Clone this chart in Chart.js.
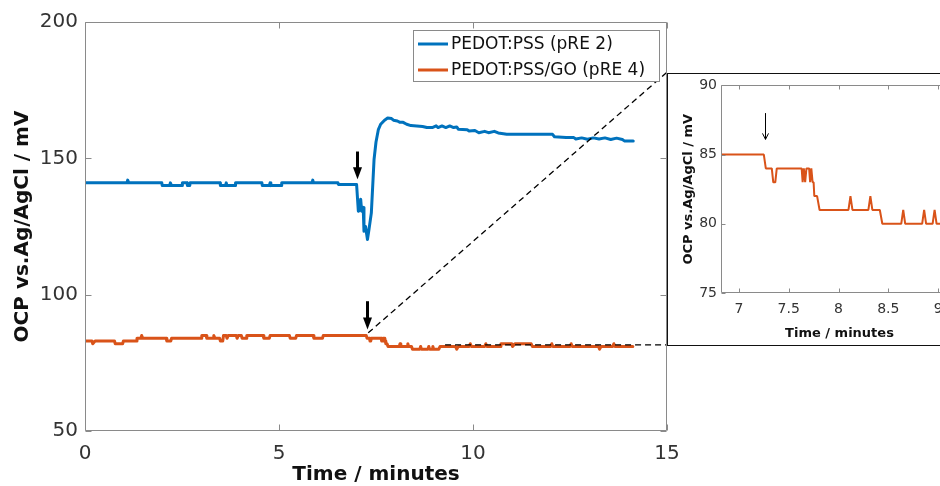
<!DOCTYPE html>
<html><head><meta charset="utf-8">
<script src="https://cdn.jsdelivr.net/npm/chart.js@4/dist/chart.umd.min.js"></script>
<style>
html,body{margin:0;padding:0;background:#fff;overflow:hidden;width:940px;height:486px;}
#wrap{position:relative;width:940px;height:486px;overflow:hidden;}
#main{position:absolute;left:0;top:0;}
#inset{position:absolute;left:667px;top:73px;}
</style></head><body>
<div id="wrap">
<canvas id="main" width="940" height="486"></canvas>
<canvas id="inset" width="300" height="273"></canvas>
</div>
<script>
// ---------- data ----------
const seriesNames = ['PEDOT:PSS (pRE 2)', 'PEDOT:PSS/GO (pRE 4)'];
const seriesColors = ['#0072BD', '#D95319'];
const xTitle = 'Time / minutes';
const yTitle = 'OCP vs.Ag/AgCl / mV';

const xTicks = [0, 5, 10, 15];
const yTicks = [50, 100, 150, 200];
const insetXTicks = [7, 7.5, 8, 8.5, 9];
const insetYTicks = [75, 80, 85, 90];
const insetRange = [6.82, 9.2];

const blueTime = [0,1.08,1.10,1.13,1.98,1.99,2.18,2.20,2.23,2.50,2.51,2.63,2.64,2.70,2.71,3.48,3.49,3.62,3.64,3.66,3.87,3.88,4.56,4.57,4.75,4.77,4.79,5.06,5.07,5.85,5.87,5.89,6.52,6.53,7.00,7.045,7.08,7.105,7.13,7.17,7.19,7.23,7.28,7.32,7.38,7.45,7.50,7.56,7.62,7.72,7.80,7.90,7.95,8.05,8.12,8.20,8.29,8.40,8.55,8.70,8.81,8.95,9.05,9.10,9.20,9.30,9.40,9.50,9.58,9.62,9.85,9.90,10.05,10.15,10.30,10.40,10.55,10.65,10.87,12.05,12.10,12.40,12.60,12.65,12.80,12.95,13.10,13.25,13.40,13.55,13.70,13.85,13.90,14.13];
const blueMv = [141,141,142,141,141,140,140,141,140,140,141,141,140,140,141,141,140,140,141,140,140,141,141,140,140,141,140,140,141,141,142,141,141,140.4,140.4,130.6,131,135,130.6,132,123.3,125,120.2,124,130,149.6,156,160.5,162.5,164,164.8,164.6,164,163.7,163.2,163.2,162.5,162,161.9,161.7,161.3,161.3,161.9,161.3,161.9,161.3,161.9,161.3,161.5,160.7,160.5,160,160.2,159.4,159.9,159.4,159.9,159.3,158.8,158.8,157.9,157.6,157.6,157.1,157.5,157.0,157.5,157.1,157.5,156.9,157.4,156.9,156.4,156.4];

const orangeTime = [0,0.18,0.2,0.26,0.76,0.78,0.97,0.99,1.32,1.34,1.44,1.46,1.49,2.09,2.11,2.21,2.23,2.99,3.01,3.12,3.14,3.30,3.32,3.35,3.47,3.49,3.55,3.57,3.64,3.66,3.69,3.9,3.92,3.95,4.03,4.05,4.15,4.17,4.59,4.61,4.75,4.77,5.27,5.29,5.43,5.45,5.88,5.9,6.12,6.14,7.25,7.27,7.33,7.345,7.365,7.38,7.63,7.64,7.652,7.665,7.678,7.705,7.715,7.727,7.74,7.75,7.757,7.785,7.81,8.10,8.12,8.14,8.30,8.32,8.34,8.415,8.44,8.63,8.65,8.67,8.84,8.86,8.88,8.945,8.965,8.985,9.12,9.15,9.55,9.58,9.62,9.9,9.93,9.96,10.3,10.33,10.36,10.7,10.72,11.0,11.02,11.08,11.5,11.53,12.0,12.03,12.06,12.5,12.53,12.56,13.24,13.26,13.3,13.6,13.63,13.66,14.12];
const orangeMv = [83,83,82,83,83,82,82,83,83,84,84,85,84,84,83,83,84,84,85,85,84,84,85,84,84,83,83,85,85,84,85,85,84,85,85,84,84,85,85,84,84,85,85,84,84,85,85,84,84,85,85,84,84,83,83,84,84,83,84,83,84,84,83,84,83,83,82,82,81,81,82,81,81,82,81,81,80,80,81,80,80,81,80,80,81,80,80,81,81,80,81,81,82,81,81,82,81,81,82,82,81,82,82,81,81,82,81,81,82,81,81,80,81,81,82,81,81];

// annotation marks in data units
const mainArrows = [{t: 7.0, from: 152.5, to: 142.3}, {t: 7.27, from: 97.6, to: 87.2}];
const insetArrow = {t: 7.26, from: 88.0, to: 86.1};
const zoomDiagonal = [[7.3, 86.0], [15, 181.6]];
const zoomHorizontal = [[9.28, 81.6], [15, 81.6]];

// ---------- helpers ----------
Chart.defaults.font.family = "'DejaVu Sans', sans-serif";
const toPts = (ts, vs) => ts.map((t, i) => ({x: t, y: vs[i]}));

function frameAndTicks(chart, color, len) {
  const {ctx, chartArea: a, scales: {x, y}} = chart;
  const L = Math.round(a.left) + 0.5, R = Math.round(a.right) - 0.5;
  const T = Math.round(a.top) + 0.5, B = Math.round(a.bottom) - 0.5;
  ctx.save();
  ctx.strokeStyle = color; ctx.lineWidth = 1;
  ctx.beginPath(); ctx.rect(L, T, R - L, B - T); ctx.stroke();
  ctx.beginPath();
  x.ticks.forEach(tk => { const p = Math.round(x.getPixelForValue(tk.value)) + 0.5;
    ctx.moveTo(p, B); ctx.lineTo(p, B - len); ctx.moveTo(p, T); ctx.lineTo(p, T + len); });
  y.ticks.forEach(tk => { const p = Math.round(y.getPixelForValue(tk.value)) + 0.5;
    ctx.moveTo(L, p); ctx.lineTo(L + len, p); ctx.moveTo(R, p); ctx.lineTo(R - len, p); });
  ctx.stroke(); ctx.restore();
}

function drawArrow(ctx, x, y1, y2, w, head, hw, filled) {
  ctx.save();
  ctx.strokeStyle = '#000'; ctx.fillStyle = '#000'; ctx.lineWidth = w;
  ctx.beginPath(); ctx.moveTo(x, y1); ctx.lineTo(x, filled ? y2 - head * 0.7 : y2); ctx.stroke();
  ctx.beginPath(); ctx.moveTo(x - hw, y2 - head); ctx.lineTo(x, y2); ctx.lineTo(x + hw, y2 - head);
  if (filled) { ctx.closePath(); ctx.fill(); } else { ctx.lineWidth = 1; ctx.stroke(); }
  ctx.restore();
}

const mainDecor = {
  id: 'mainDecor',
  beforeDraw(chart) {
    const c = chart.ctx; c.save(); c.fillStyle = '#fff'; c.fillRect(0, 0, chart.width, chart.height); c.restore();
  },
  afterDatasetsDraw(chart) {
    const {ctx, scales: {x, y}} = chart;
    ctx.save();
    ctx.strokeStyle = '#000'; ctx.lineWidth = 1.3; ctx.setLineDash([6, 4]);
    [zoomDiagonal, zoomHorizontal].forEach(seg => {
      ctx.beginPath();
      ctx.moveTo(x.getPixelForValue(seg[0][0]), y.getPixelForValue(seg[0][1]));
      ctx.lineTo(x.getPixelForValue(seg[1][0]), y.getPixelForValue(seg[1][1]));
      ctx.stroke();
    });
    ctx.restore();
    mainArrows.forEach(a => {
      drawArrow(ctx, Math.round(x.getPixelForValue(a.t)) + 0.5, y.getPixelForValue(a.from), y.getPixelForValue(a.to), 3, 12, 4.5, true);
    });
  },
  afterDraw(chart) {
    frameAndTicks(chart, '#8a8a8a', 6);
    const ctx = chart.ctx;
    const bx = 413.5, by = 30.5, bw = 246, bh = 51;
    ctx.save();
    ctx.fillStyle = '#fff'; ctx.fillRect(bx, by, bw, bh);
    ctx.strokeStyle = '#8a8a8a'; ctx.lineWidth = 1; ctx.strokeRect(bx, by, bw, bh);
    chart.data.datasets.forEach((ds, i) => {
      const ry = 44 + i * 26;
      ctx.strokeStyle = ds.borderColor; ctx.lineWidth = 3;
      ctx.beginPath(); ctx.moveTo(418, ry); ctx.lineTo(448, ry); ctx.stroke();
      ctx.fillStyle = '#111'; ctx.font = "17px 'DejaVu Sans', sans-serif"; ctx.textBaseline = 'middle'; ctx.textAlign = 'left';
      ctx.fillText(ds.label, 451, ry + 1);
    });
    ctx.restore();
  }
};

const insetDecor = {
  id: 'insetDecor',
  beforeDraw(chart) {
    const c = chart.ctx; c.save(); c.fillStyle = '#fff'; c.fillRect(0, 0, chart.width, chart.height); c.restore();
  },
  afterDatasetsDraw(chart) {
    const {ctx, scales: {x, y}} = chart;
    drawArrow(ctx, Math.round(x.getPixelForValue(insetArrow.t)) + 0.5, y.getPixelForValue(insetArrow.from), y.getPixelForValue(insetArrow.to), 1, 6, 3, false);
  },
  afterDraw(chart) {
    frameAndTicks(chart, '#8a8a8a', 4);
    const ctx = chart.ctx;
    ctx.save(); ctx.strokeStyle = '#111'; ctx.lineWidth = 1;
    ctx.beginPath();
    ctx.moveTo(0.5, 0); ctx.lineTo(0.5, chart.height);
    ctx.moveTo(0, 0.5); ctx.lineTo(chart.width, 0.5);
    ctx.moveTo(0, chart.height - 0.5); ctx.lineTo(chart.width, chart.height - 0.5);
    ctx.stroke(); ctx.restore();
  }
};

const fmt = v => String(+v);

// ---------- main chart ----------
new Chart(document.getElementById('main'), {
  type: 'line',
  data: {datasets: [
    {label: seriesNames[0], data: toPts(blueTime, blueMv), borderColor: seriesColors[0], borderWidth: 3, borderJoinStyle: 'round', borderCapStyle: 'round', pointRadius: 0, tension: 0},
    {label: seriesNames[1], data: toPts(orangeTime, orangeMv), borderColor: seriesColors[1], borderWidth: 3, borderJoinStyle: 'round', borderCapStyle: 'round', pointRadius: 0, tension: 0}
  ]},
  options: {
    responsive: false, animation: false, devicePixelRatio: 1,
    layout: {padding: {left: 0, right: 273, top: 22, bottom: 0}},
    plugins: {legend: {display: false}, tooltip: {enabled: false}},
    scales: {
      x: {type: 'linear', min: xTicks[0], max: xTicks[xTicks.length - 1],
        afterBuildTicks: s => { s.ticks = xTicks.map(v => ({value: v})); },
        ticks: {padding: 11, color: '#333', font: {size: 20}, maxRotation: 0, callback: fmt},
        grid: {display: false, drawTicks: false}, border: {display: false},
        title: {display: true, text: xTitle, color: '#111', font: {size: 20, weight: 'bold', lineHeight: 1}, padding: {top: 0, bottom: 1.5}},
        afterFit: s => { s.height = 55; }},
      y: {type: 'linear', min: yTicks[0], max: yTicks[yTicks.length - 1],
        afterBuildTicks: s => { s.ticks = yTicks.map(v => ({value: v})); },
        ticks: {padding: 7, color: '#333', font: {size: 20}, callback: fmt},
        grid: {display: false, drawTicks: false}, border: {display: false},
        title: {display: true, text: yTitle, color: '#111', font: {size: 20, weight: 'bold', lineHeight: 1.2}, padding: {top: 10.5, bottom: 0}},
        afterFit: s => { s.width = 85; }}
    }
  },
  plugins: [mainDecor]
});

// ---------- inset chart ----------
new Chart(document.getElementById('inset'), {
  type: 'line',
  data: {datasets: [
    {label: seriesNames[1], data: toPts(orangeTime, orangeMv), borderColor: seriesColors[1], borderWidth: 2, borderJoinStyle: 'bevel', pointRadius: 0, tension: 0}
  ]},
  options: {
    responsive: false, animation: false, devicePixelRatio: 1,
    layout: {padding: {left: 0, right: 9, top: 8, bottom: 0}},
    plugins: {legend: {display: false}, tooltip: {enabled: false}},
    scales: {
      x: {type: 'linear', min: insetRange[0], max: insetRange[1],
        afterBuildTicks: s => { s.ticks = insetXTicks.map(v => ({value: v})); },
        ticks: {padding: 8, color: '#333', font: {size: 14}, maxRotation: 0, callback: fmt},
        grid: {display: false, drawTicks: false}, border: {display: false},
        title: {display: true, text: xTitle, color: '#111', font: {size: 13, weight: 'bold', lineHeight: 1}, padding: {top: 0, bottom: 5.5}},
        afterFit: s => { s.height = 53; }},
      y: {type: 'linear', min: insetYTicks[0], max: insetYTicks[insetYTicks.length - 1],
        afterBuildTicks: s => { s.ticks = insetYTicks.map(v => ({value: v})); },
        ticks: {padding: 4, color: '#333', font: {size: 14}, callback: fmt},
        grid: {display: false, drawTicks: false}, border: {display: false},
        title: {display: true, text: yTitle, color: '#111', font: {size: 13, weight: 'bold', lineHeight: 1}, padding: {top: 15.5, bottom: 0}},
        afterFit: s => { s.width = 54; }}
    }
  },
  plugins: [insetDecor]
});
</script>
</body></html>
